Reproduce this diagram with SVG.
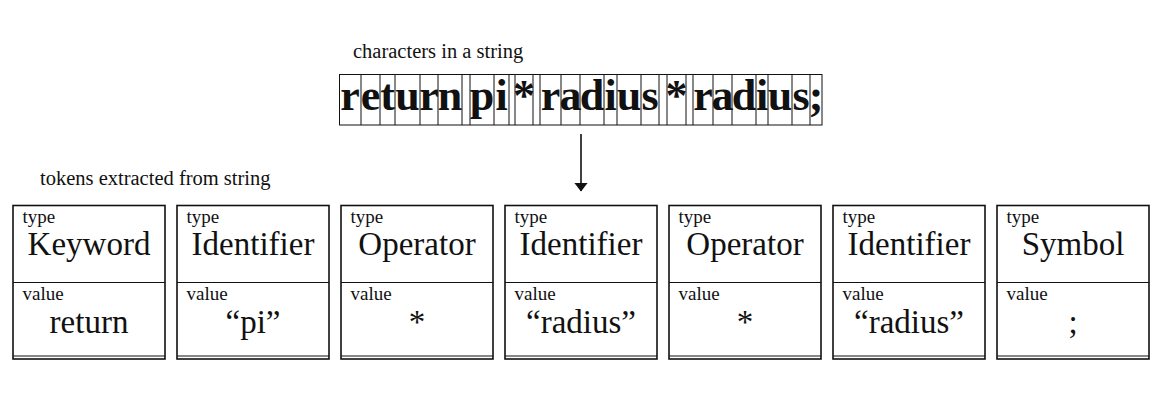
<svg xmlns="http://www.w3.org/2000/svg" width="1165" height="417" viewBox="0 0 1165 417">
<style>
.cap{font-family:"Liberation Serif",serif;font-size:20.5px;fill:#111}
.ch{font-family:"Liberation Serif",serif;font-size:44px;font-weight:bold;fill:#111;text-anchor:middle}
.cell{fill:none;stroke:#111;stroke-width:1}
.box{fill:#fff;stroke:#111;stroke-width:1.6}
.div{stroke:#111;stroke-width:1}
.lbl{font-family:"Liberation Serif",serif;font-size:19px;fill:#111}
.big{font-family:"Liberation Serif",serif;font-size:33px;fill:#111;text-anchor:middle}
.conn{stroke:#111;stroke-width:1.6;fill:none}
</style>
<defs>
<marker id="ah" markerWidth="9" markerHeight="14" refX="8.5" refY="4.5" orient="auto" markerUnits="userSpaceOnUse" viewBox="0 0 9 9" preserveAspectRatio="none">
<path d="M0,0 L9,4.5 L0,9 Z" fill="#111"/>
</marker>
</defs>
<text class="cap" x="353" y="58">characters in a string</text>
<text class="cap" x="40" y="185">tokens extracted from string</text>
<g id="string">
<rect class="cell" x="339.5" y="74.5" width="482.5" height="50.5"/>
<path class="cell" d="M361,74.5V125 M380,74.5V125 M395,74.5V125 M420,74.5V125 M438,74.5V125 M462,74.5V125 M470,74.5V125 M494,74.5V125 M509,74.5V125 M515,74.5V125 M533,74.5V125 M540,74.5V125 M561,74.5V125 M580,74.5V125 M604,74.5V125 M617,74.5V125 M641,74.5V125 M659,74.5V125 M667,74.5V125 M686,74.5V125 M693,74.5V125 M713,74.5V125 M732,74.5V125 M756,74.5V125 M768,74.5V125 M792,74.5V125 M810,74.5V125"/>
<text class="ch" x="350" y="110">r</text>
<text class="ch" x="370.5" y="110">e</text>
<text class="ch" x="387.5" y="110">t</text>
<text class="ch" x="407.5" y="110">u</text>
<text class="ch" x="429" y="110">r</text>
<text class="ch" x="450" y="110">n</text>
<text class="ch" x="482" y="110">p</text>
<text class="ch" x="501.5" y="110">i</text>
<text class="ch" x="524" y="110">*</text>
<text class="ch" x="550.5" y="110">r</text>
<text class="ch" x="570.5" y="110">a</text>
<text class="ch" x="592" y="110">d</text>
<text class="ch" x="610.5" y="110">i</text>
<text class="ch" x="629" y="110">u</text>
<text class="ch" x="650" y="110">s</text>
<text class="ch" x="676.5" y="110">*</text>
<text class="ch" x="703" y="110">r</text>
<text class="ch" x="722.5" y="110">a</text>
<text class="ch" x="744" y="110">d</text>
<text class="ch" x="762" y="110">i</text>
<text class="ch" x="780" y="110">u</text>
<text class="ch" x="801" y="110">s</text>
<text class="ch" x="816" y="110">;</text>
</g>
<g id="connectors">
<line class="conn" x1="581" y1="134" x2="581" y2="191" marker-end="url(#ah)"/>
</g>
<g id="token1">
<rect class="box" x="13" y="205.5" width="152" height="153.5"/>
<line class="div" x1="13" y1="282.5" x2="165" y2="282.5"/>
<line class="div" x1="13" y1="356" x2="165" y2="356"/>
<text class="lbl" x="22.5" y="223">type</text>
<text class="big" x="89" y="255">Keyword</text>
<text class="lbl" x="22.5" y="300">value</text>
<text class="big" x="89" y="333">return</text>
</g>
<g id="token2">
<rect class="box" x="177" y="205.5" width="152" height="153.5"/>
<line class="div" x1="177" y1="282.5" x2="329" y2="282.5"/>
<line class="div" x1="177" y1="356" x2="329" y2="356"/>
<text class="lbl" x="186.5" y="223">type</text>
<text class="big" x="253" y="255">Identifier</text>
<text class="lbl" x="186.5" y="300">value</text>
<text class="big" x="253" y="333">“pi”</text>
</g>
<g id="token3">
<rect class="box" x="341" y="205.5" width="152" height="153.5"/>
<line class="div" x1="341" y1="282.5" x2="493" y2="282.5"/>
<line class="div" x1="341" y1="356" x2="493" y2="356"/>
<text class="lbl" x="350.5" y="223">type</text>
<text class="big" x="417" y="255">Operator</text>
<text class="lbl" x="350.5" y="300">value</text>
<text class="big" x="417" y="333">*</text>
</g>
<g id="token4">
<rect class="box" x="505" y="205.5" width="152" height="153.5"/>
<line class="div" x1="505" y1="282.5" x2="657" y2="282.5"/>
<line class="div" x1="505" y1="356" x2="657" y2="356"/>
<text class="lbl" x="514.5" y="223">type</text>
<text class="big" x="581" y="255">Identifier</text>
<text class="lbl" x="514.5" y="300">value</text>
<text class="big" x="581" y="333">“radius”</text>
</g>
<g id="token5">
<rect class="box" x="669" y="205.5" width="152" height="153.5"/>
<line class="div" x1="669" y1="282.5" x2="821" y2="282.5"/>
<line class="div" x1="669" y1="356" x2="821" y2="356"/>
<text class="lbl" x="678.5" y="223">type</text>
<text class="big" x="745" y="255">Operator</text>
<text class="lbl" x="678.5" y="300">value</text>
<text class="big" x="745" y="333">*</text>
</g>
<g id="token6">
<rect class="box" x="833" y="205.5" width="152" height="153.5"/>
<line class="div" x1="833" y1="282.5" x2="985" y2="282.5"/>
<line class="div" x1="833" y1="356" x2="985" y2="356"/>
<text class="lbl" x="842.5" y="223">type</text>
<text class="big" x="909" y="255">Identifier</text>
<text class="lbl" x="842.5" y="300">value</text>
<text class="big" x="909" y="333">“radius”</text>
</g>
<g id="token7">
<rect class="box" x="997" y="205.5" width="152" height="153.5"/>
<line class="div" x1="997" y1="282.5" x2="1149" y2="282.5"/>
<line class="div" x1="997" y1="356" x2="1149" y2="356"/>
<text class="lbl" x="1006.5" y="223">type</text>
<text class="big" x="1073" y="255">Symbol</text>
<text class="lbl" x="1006.5" y="300">value</text>
<text class="big" x="1073" y="333">;</text>
</g>
</svg>
